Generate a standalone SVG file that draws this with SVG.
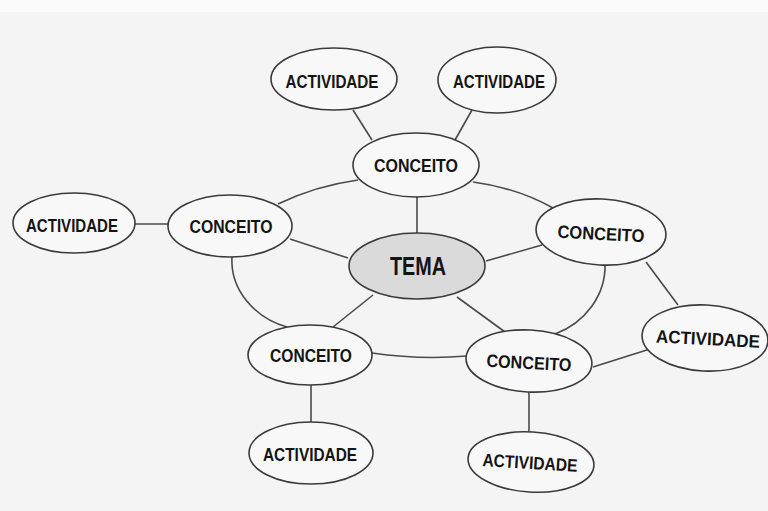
<svg xmlns="http://www.w3.org/2000/svg" width="768" height="511" viewBox="0 0 768 511">
<style>
.n{fill:#f8f8f8;stroke:#3a3a3a;stroke-width:1.6}
.tema{fill:#dadada;stroke:#3a3a3a;stroke-width:1.6}
.t{font-family:"Liberation Sans",Arial,sans-serif;font-weight:bold;font-size:18px;fill:#141414;text-anchor:middle}
.big{font-size:25px}
#connectors path,#connectors line{fill:none;stroke:#4a4a4a;stroke-width:1.6}
</style>
<rect x="0" y="0" width="768" height="511" fill="#f4f4f4"/>
<rect x="0" y="0" width="768" height="12" fill="#fbfbfb"/>
<g id="connectors">
<line x1="353" y1="110" x2="372" y2="140"/>
<line x1="472" y1="110" x2="455" y2="140"/>
<line x1="417" y1="197" x2="417" y2="233"/>
<line x1="135" y1="224" x2="168" y2="224"/>
<line x1="290" y1="239" x2="348" y2="258"/>
<line x1="542" y1="245" x2="486" y2="261"/>
<line x1="373" y1="295" x2="333" y2="327"/>
<line x1="457" y1="297" x2="505" y2="332"/>
<line x1="593" y1="367" x2="650" y2="349"/>
<line x1="646" y1="262" x2="678" y2="305"/>
<line x1="311" y1="385" x2="311" y2="423"/>
<line x1="529" y1="392" x2="529" y2="432"/>
<path d="M278,204 Q315,186 358,180"/>
<path d="M473,182 Q518,188 553,208"/>
<path d="M232,257 C230,290 255,318 287,327"/>
<path d="M605,264 C606,295 585,323 555,334"/>
<path d="M372,353 Q420,360 467,356"/>
</g>
<g id="act-top-left">
<ellipse class="n" cx="334" cy="79" rx="63" ry="31"/>
<text class="t" x="332" y="88" textLength="93" lengthAdjust="spacingAndGlyphs">ACTIVIDADE</text>
</g>
<g id="act-top-right">
<ellipse class="n" cx="497" cy="80" rx="59" ry="33"/>
<text class="t" x="499" y="88" textLength="92" lengthAdjust="spacingAndGlyphs">ACTIVIDADE</text>
</g>
<g id="conceito-top">
<ellipse class="n" cx="416" cy="165" rx="63" ry="32"/>
<text class="t" x="416" y="172" textLength="84" lengthAdjust="spacingAndGlyphs">CONCEITO</text>
</g>
<g id="act-left">
<ellipse class="n" cx="74" cy="223" rx="61" ry="30"/>
<text class="t" x="72" y="232" textLength="92" lengthAdjust="spacingAndGlyphs">ACTIVIDADE</text>
</g>
<g id="conceito-left">
<ellipse class="n" cx="230" cy="226" rx="62" ry="31"/>
<text class="t" x="231" y="233" textLength="83" lengthAdjust="spacingAndGlyphs">CONCEITO</text>
</g>
<g id="tema">
<ellipse class="tema" cx="417" cy="266" rx="68" ry="33"/>
<text class="t big" x="418" y="275" textLength="56" lengthAdjust="spacingAndGlyphs">TEMA</text>
</g>
<g id="conceito-right" transform="rotate(3 601 232)">
<ellipse class="n" cx="601" cy="232" rx="65" ry="33"/>
<text class="t" x="601" y="240" textLength="87" lengthAdjust="spacingAndGlyphs">CONCEITO</text>
</g>
<g id="act-right" transform="rotate(3 705 338)">
<ellipse class="n" cx="705" cy="338" rx="63" ry="33"/>
<text class="t" x="708" y="345" textLength="104" lengthAdjust="spacingAndGlyphs">ACTIVIDADE</text>
</g>
<g id="conceito-bottom-left">
<ellipse class="n" cx="310" cy="355" rx="62" ry="30"/>
<text class="t" x="311" y="362" textLength="82" lengthAdjust="spacingAndGlyphs">CONCEITO</text>
</g>
<g id="conceito-bottom-right" transform="rotate(3 529 361)">
<ellipse class="n" cx="529" cy="361" rx="63" ry="31"/>
<text class="t" x="529" y="369" textLength="85" lengthAdjust="spacingAndGlyphs">CONCEITO</text>
</g>
<g id="act-bottom-left">
<ellipse class="n" cx="311" cy="453" rx="62" ry="31"/>
<text class="t" x="310" y="461" textLength="94" lengthAdjust="spacingAndGlyphs">ACTIVIDADE</text>
</g>
<g id="act-bottom-right" transform="rotate(3.5 531 462)">
<ellipse class="n" cx="531" cy="462" rx="63" ry="30"/>
<text class="t" x="530" y="469" textLength="95" lengthAdjust="spacingAndGlyphs">ACTIVIDADE</text>
</g>
</svg>
